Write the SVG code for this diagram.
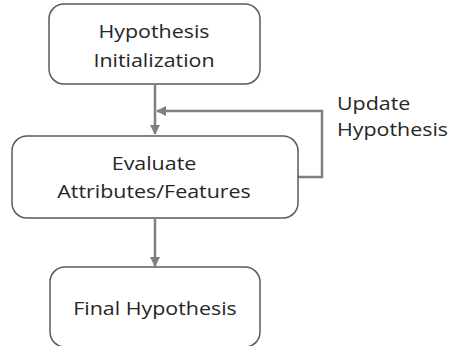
<svg xmlns="http://www.w3.org/2000/svg" width="449" height="346" viewBox="0 0 449 346">
<style>
.box{fill:#fff;stroke:#5a5a5a;stroke-width:1.5}
.t{font-family:"Open Sans",sans-serif;font-size:18px;fill:#262626;text-anchor:middle}
.l{font-family:"Open Sans",sans-serif;font-size:18px;fill:#262626}
.c{fill:none;stroke:#7f7f7f;stroke-width:2.5}
</style>
<defs>
<marker id="ah" viewBox="0 0 10 10" refX="9" refY="5" markerWidth="4" markerHeight="4" orient="auto" markerUnits="strokeWidth">
<path d="M0,0L10,5L0,10z" fill="#7f7f7f"/>
</marker>
</defs>
<g id="connectors">
<line class="c" x1="155" y1="85" x2="155" y2="134" marker-end="url(#ah)"/>
<polyline class="c" points="298,177 322,177 322,111 157,111" marker-end="url(#ah)"/>
<line class="c" x1="155" y1="219" x2="155" y2="266" marker-end="url(#ah)"/>
</g>
<g id="n1">
<rect class="box" x="49" y="4" width="211" height="80" rx="15"/>
<text class="t" transform="translate(154,38) scale(1.19,1)">Hypothesis</text>
<text class="t" transform="translate(154,67) scale(1.19,1)">Initialization</text>
</g>
<g id="n2">
<rect class="box" x="12" y="136" width="286" height="82" rx="15"/>
<text class="t" transform="translate(154,170) scale(1.19,1)">Evaluate</text>
<text class="t" transform="translate(154,198) scale(1.19,1)">Attributes/Features</text>
</g>
<g id="n3">
<rect class="box" x="50" y="267" width="210" height="80" rx="15"/>
<text class="t" transform="translate(155,315) scale(1.19,1)">Final Hypothesis</text>
</g>
<g id="label">
<text class="l" transform="translate(337,110) scale(1.19,1)">Update</text>
<text class="l" transform="translate(337,136) scale(1.19,1)">Hypothesis</text>
</g>
</svg>
